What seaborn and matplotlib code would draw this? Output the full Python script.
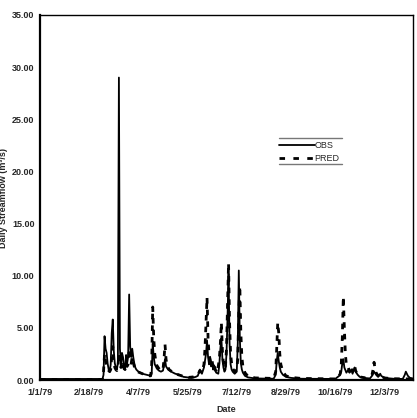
import numpy as np
import pandas as pd
import matplotlib
matplotlib.use("Agg")
import matplotlib.pyplot as plt
from matplotlib.lines import Line2D
import seaborn as sns

# ---------------- data (day of year index from 1/1/79, value in m3/s) -------------
obs_days = [0, 61, 62, 63, 64, 65, 66, 67, 68, 69, 70, 71, 72, 73, 74, 75, 76, 77, 78, 79,
            80, 81, 82, 83, 84, 85, 86, 87, 88, 89, 90, 91, 92, 93, 94, 96, 100, 104, 108,
            109, 110, 111, 112, 114, 116, 118, 120, 121, 122, 123, 125, 128, 132, 136, 140,
            144, 148, 152, 154, 156, 158, 160, 162, 163, 164, 165, 166, 167, 168, 169, 170,
            171, 172, 174, 175, 176, 177, 178, 179, 180, 181, 182, 183, 184, 185, 186, 187,
            188, 189, 190, 192, 193, 194, 195, 196, 197, 198, 200, 203, 210, 228, 230, 231,
            232, 233, 234, 235, 237, 240, 245, 255, 288, 292, 294, 295, 296, 297, 299, 301,
            302, 304, 305, 307, 308, 310, 312, 316, 322, 324, 326, 328, 330, 332, 333, 336,
            345, 354, 356, 357, 359, 361, 364]
obs_vals = [0.1, 0.1, 0.5, 4.2, 3.0, 2.6, 1.6, 1.0, 0.8, 1.5, 4.5, 5.8, 2.8, 1.6, 1.2, 1.0, 1.6, 29.0, 3.0, 1.4,
            2.6, 2.2, 1.2, 1.0, 2.4, 1.6, 2.2, 8.2, 3.2, 2.2, 3.0, 2.2, 1.6, 1.2, 1.0, 0.8, 0.6, 0.5, 0.4,
            0.6, 3.5, 2.2, 1.5, 1.1, 0.9, 0.8, 0.9, 1.4, 2.0, 1.3, 1.0, 0.8, 0.6, 0.5, 0.3,
            0.25, 0.2, 0.3, 0.4, 1.0, 0.6, 1.2, 2.5, 3.8, 2.2, 1.5, 2.0, 1.3, 1.6, 1.0, 1.4,
            0.9, 0.7, 0.6, 1.5, 3.0, 4.0, 2.0, 1.2, 0.8, 1.0, 2.5, 6.0, 10.2, 3.5, 1.5, 1.0,
            0.8, 0.7, 0.6, 0.8, 3.5, 10.5, 4.0, 1.6, 1.0, 0.7, 0.4, 0.25, 0.15, 0.12, 0.5, 1.8,
            2.6, 1.8, 1.2, 0.8, 0.5, 0.3, 0.2, 0.12, 0.1, 0.4, 0.8, 1.6, 2.0, 1.2, 0.7, 1.0,
            0.7, 1.0, 0.6, 1.2, 0.8, 0.5, 0.3, 0.2, 0.15, 0.4, 0.8, 0.5, 0.3, 0.6, 0.4, 0.2,
            0.12, 0.1, 0.5, 0.8, 0.4, 0.2, 0.15]

pred_days = [0, 61, 62, 63, 64, 65, 66, 67, 68, 69, 70, 71, 72, 73, 74, 75, 76, 77, 78, 79,
             80, 81, 82, 83, 84, 85, 86, 87, 88, 89, 90, 91, 92, 93, 95, 100, 105, 108, 109,
             110, 111, 112, 113, 114, 116, 118, 120, 121, 122, 123, 124, 126, 130, 135, 140,
             145, 150, 154, 156, 158, 160, 161, 162, 163, 164, 165, 166, 167, 168, 169, 170,
             171, 173, 175, 176, 177, 178, 179, 180, 181, 182, 183, 184, 185, 186, 187, 188,
             190, 192, 193, 194, 195, 196, 197, 198, 200, 203, 210, 228, 230, 231, 232, 233,
             234, 235, 237, 240, 245, 255, 290, 293, 294, 295, 296, 297, 298, 299, 301, 302,
             304, 305, 307, 308, 310, 312, 318, 324, 325, 326, 327, 328, 330, 332, 333, 336,
             345, 364]
pred_vals = [0.05, 0.05, 0.8, 2.5, 1.8, 1.4, 1.1, 0.9, 0.8, 1.0, 2.2, 3.2, 1.8, 1.2, 1.0, 0.9, 1.2, 2.5, 1.6, 1.2,
             1.8, 1.4, 1.1, 1.0, 1.6, 1.3, 1.5, 3.0, 2.2, 1.6, 2.2, 1.7, 1.3, 1.0, 0.8, 0.6, 0.4, 0.4, 1.5,
             7.0, 4.0, 2.5, 1.8, 1.4, 1.1, 0.9, 1.0, 2.0, 3.4, 2.0, 1.4, 1.0, 0.7, 0.5, 0.35,
             0.25, 0.3, 0.5, 0.9, 0.7, 1.5, 3.0, 5.5, 7.9, 4.0, 2.4, 2.0, 1.5, 1.8, 1.2, 1.5,
             1.0, 0.7, 2.0, 3.5, 5.5, 2.8, 1.6, 1.1, 1.3, 3.0, 7.0, 11.2, 5.5, 2.5, 1.6, 1.1,
             0.8, 1.0, 2.0, 6.5, 9.0, 4.5, 2.2, 1.3, 0.7, 0.35, 0.2, 0.15, 0.8, 3.0, 5.5, 4.5,
             2.5, 1.5, 0.8, 0.4, 0.25, 0.15, 0.1, 0.6, 1.5, 4.0, 8.0, 5.0, 2.5, 1.4, 1.2, 0.8,
             1.3, 0.8, 1.4, 0.9, 0.5, 0.3, 0.2, 0.5, 1.0, 1.7, 1.0, 0.7, 0.4, 0.6, 0.4, 0.2,
             0.12, 0.1]

x_tick_labels = ["1/1/79", "2/18/79", "4/7/79", "5/25/79", "7/12/79", "8/29/79", "10/16/79", "12/3/79"]
y_ticks = [0, 5, 10, 15, 20, 25, 30, 35]
series_names = ["OBS", "PRED"]

# ---------------- build frames ----------------
start = pd.Timestamp("1979-01-01")
obs_df = pd.DataFrame({"Date": start + pd.to_timedelta(obs_days, unit="D"), "Flow": obs_vals})
pred_df = pd.DataFrame({"Date": start + pd.to_timedelta(pred_days, unit="D"), "Flow": pred_vals})

sns.set_style("white")
plt.rcParams["font.family"] = ["Liberation Sans", "DejaVu Sans"]

fig = plt.figure(figsize=(4.17, 4.18), dpi=100)
ax = fig.add_axes([40 / 417, 38 / 418, 373 / 417, 365 / 418])

sns.lineplot(data=obs_df, x="Date", y="Flow", ax=ax, color="black", linewidth=1.3,
             label=series_names[0])
sns.lineplot(data=pred_df, x="Date", y="Flow", ax=ax, color="black", linewidth=2.0,
             linestyle=(0, (2, 2.2)), label=series_names[1])

ax.set_ylim(0, 35)
ax.set_xlim(start, start + pd.Timedelta(days=364))
ax.set_yticks(y_ticks)
ax.set_yticklabels([f"{v:.2f}" for v in y_ticks], fontsize=6.5, fontweight="bold")
tick_dates = [pd.Timestamp(year=1979, month=int(s.split('/')[0]), day=int(s.split('/')[1]))
              for s in x_tick_labels]
ax.set_xticks(tick_dates)
ax.set_xticklabels(x_tick_labels, fontsize=6.5, fontweight="bold")
ax.tick_params(axis="y", length=0, pad=4)
ax.tick_params(axis="x", length=0, pad=6)

ax.set_xlabel("Date", fontsize=6.5, fontweight="bold")
ax.xaxis.set_label_coords(0.5, -0.068)
ax.set_ylabel("Daily Streamflow (m\u00b3/s)", fontsize=6.5, fontweight="bold")
ax.yaxis.set_label_coords(-0.085, 0.5)

for side in ["left", "bottom"]:
    ax.spines[side].set_linewidth(1.6)
    ax.spines[side].set_color("black")
for side in ["top", "right"]:
    ax.spines[side].set_linewidth(1.0)
    ax.spines[side].set_color("black")

leg = ax.legend(loc="upper left", bbox_to_anchor=(0.63, 0.665), frameon=False, fontsize=6.5,
                handlelength=4.0, handletextpad=0.0, borderaxespad=0.0, labelspacing=0.5)
for h in leg.get_lines():
    h.set_color("black")
leg.get_lines()[1].set_linestyle((0, (2.0, 3.0)))
leg.get_lines()[1].set_linewidth(2.0)

# horizontal rules above and below the legend
for yy in (0.663, 0.592):
    ax.add_line(Line2D([0.64, 0.81], [yy, yy], transform=ax.transAxes, color="#777777",
                       linewidth=1.0))

fig.savefig("out.png", dpi=100)
